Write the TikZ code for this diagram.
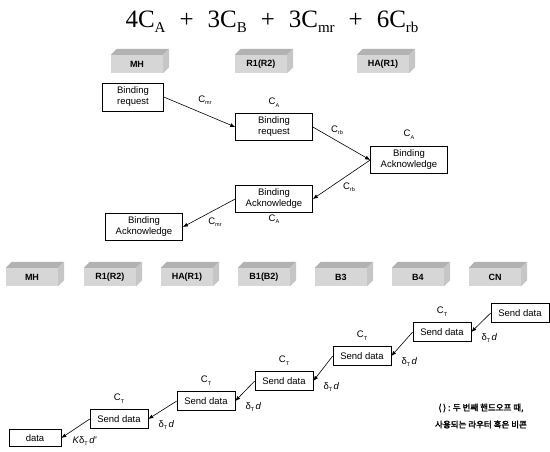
\documentclass[tikz,border=0pt]{standalone}
\usepackage{fontspec}
\setmainfont{Liberation Serif}
\newfontfamily\arialf{Liberation Sans}
\newfontfamily\korf{Noto Sans CJK KR}[AutoFakeBold=2]
\usetikzlibrary{positioning,arrows.meta,calc}

% subscripts for the title and for the small labels
\newcommand{\tsub}[1]{\raisebox{-0.45ex}{\fontsize{15}{15}\selectfont #1}}
\newcommand{\csub}[1]{\raisebox{-0.4ex}{\fontsize{5.5}{6}\selectfont #1}}
% shaded slab with a top and a side face
\newcommand{\slab}[4]{%
  \node[slab] (#1) at (#2,#3) {#4};
  \fill[gray!60] (#1.north west) -- ++(6,-6) -- ($(#1.north east)+(6,-6)$)
    -- (#1.north east) -- cycle;
  \fill[gray!45] (#1.north east) -- ++(6,-6) -- ($(#1.south east)+(6,-6)$)
    -- (#1.south east) -- cycle;
}

\begin{document}
\begin{tikzpicture}[
    x=1pt, y=-1pt,
    box/.style={draw, line width=0.6pt, fill=white, align=center, inner sep=1pt,
                font=\arialf\fontsize{9.5}{11}\selectfont},
    bind/.style={box, minimum width=77pt, minimum height=27pt},
    send/.style={box, minimum width=58pt, minimum height=19pt},
    slab/.style={fill=gray!32, minimum width=52pt, minimum height=18pt, inner sep=0pt,
                 font=\arialf\bfseries\fontsize{9}{10}\selectfont},
    lbl/.style={font=\arialf\fontsize{9.5}{10}\selectfont, inner sep=1pt},
    arrow/.style={-{Latex[length=5pt,width=4pt]}, line width=0.6pt}
  ]
    \useasboundingbox (0,0) rectangle (550,451);

    % Cost formula
    \node[font=\fontsize{25}{28}\selectfont] (cost) at (272,22)
      {4C\tsub{A}\hspace{14pt}+\hspace{14pt}3C\tsub{B}\hspace{14pt}+\hspace{14pt}3C\tsub{mr}\hspace{14pt}+\hspace{14pt}6C\tsub{rb}};

    % Binding update: entities
    \slab{mhA}{137}{64}{MH}
    \slab{rA}{261}{64}{R1(R2)}
    \slab{haA}{383}{64}{HA(R1)}

    % Binding update: messages
    \node[box, minimum width=61pt, minimum height=28pt] (req1) at (133,97) {Binding\\request};
    \node[bind] (req2) at (274,127) {Binding\\request};
    \node[bind] (ack1) at (409,160) {Binding\\Acknowledge};
    \node[bind] (ack2) at (274,199) {Binding\\Acknowledge};
    \node[bind] (ack3) at (144,227) {Binding\\Acknowledge};

    \draw[arrow] (req1.east) -- (req2.west);
    \draw[arrow] (req2.east) -- (ack1.west);
    \draw[arrow] (ack1.west) -- (ack2.east);
    \draw[arrow] (ack2.west) -- (ack3.east);

    \node[lbl] (cmr1) at (205,100) {C\csub{mr}};
    \node[lbl, above=5pt of req2] (ca1) {C\csub{A}};
    \node[lbl] (crb1) at (337,130) {C\csub{rb}};
    \node[lbl, above=6pt of ack1] (ca2) {C\csub{A}};
    \node[lbl] (crb2) at (349,187) {C\csub{rb}};
    \node[lbl, below=1pt of ack2] (ca3) {C\csub{A}};
    \node[lbl] (cmr2) at (215,222) {C\csub{mr}};

    % Data path: entities
    \slab{mhB}{32}{277}{MH}
    \slab{rB}{110}{277}{R1(R2)}
    \slab{haB}{187}{277}{HA(R1)}
    \slab{bOne}{264}{277}{B1(B2)}
    \slab{bThree}{341}{277}{B3}
    \slab{bFour}{418}{277}{B4}
    \slab{cn}{495}{277}{CN}

    % Data path: messages
    \node[send] (s1) at (520,313) {Send data};
    \node[send] (s2) at (442,332) {Send data};
    \node[send] (s3) at (362,356) {Send data};
    \node[send] (s4) at (284,381) {Send data};
    \node[send] (s5) at (206,401) {Send data};
    \node[send] (s6) at (119,419) {Send data};
    \node[box, minimum width=52pt, minimum height=17pt] (dat) at (35,438) {data};

    \foreach \a/\b in {s1/s2, s2/s3, s3/s4, s4/s5, s5/s6, s6/dat}
      \draw[arrow] (\a.west) -- (\b.east);

    \foreach \b in {s2, s3, s4, s5, s6} {
      \node[lbl, above=5pt of \b] (ct-\b) {C\csub{T}};
      \node[lbl, anchor=west] (dt-\b) at ([xshift=9pt,yshift=-6pt]\b.east)
        {δ\csub{T}\,\textit{d}};
    }
    \node[lbl, anchor=west] (kdt) at ([xshift=10pt,yshift=-3pt]dat.east)
      {\textit{K}δ\csub{T}\,\textit{d'}};

    % Note
    \node[font=\korf\bfseries\fontsize{8.5}{17}\selectfont, align=center] (note) at (481,416)
      {( ) : 두 번째 핸드오프 때,\\사용되는 라우터 혹은 비콘};
\end{tikzpicture}
\end{document}
